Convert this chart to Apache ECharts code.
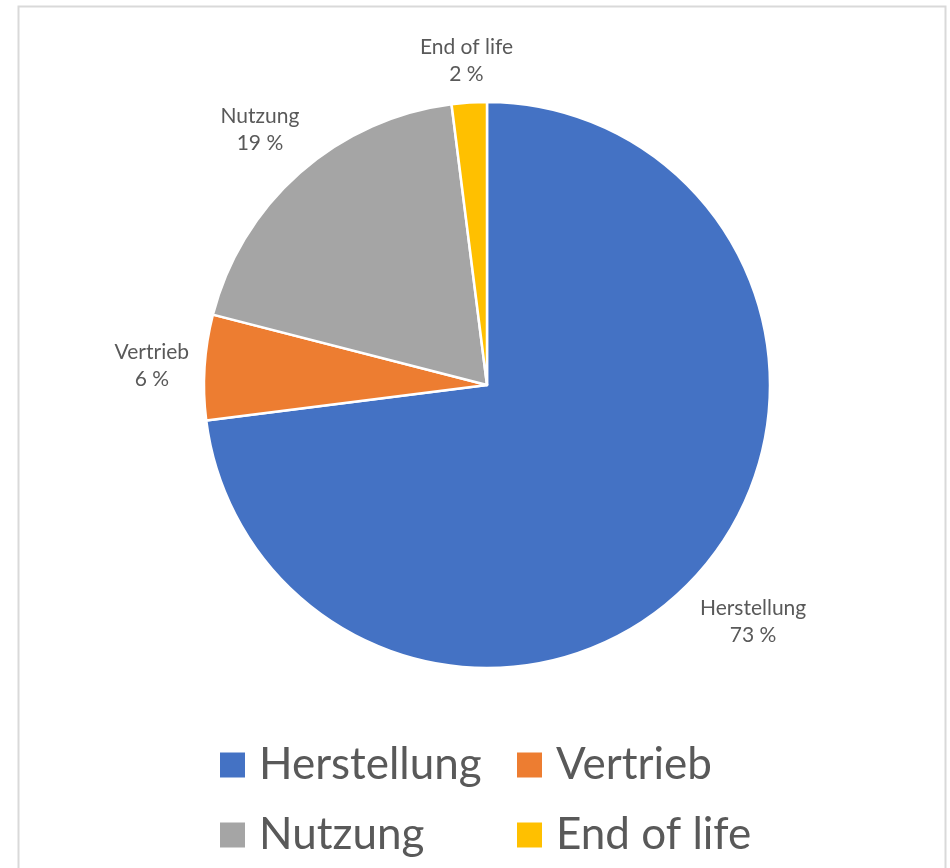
<!DOCTYPE html>
<html>
<head>
<meta charset="utf-8">
<script src="https://cdn.jsdelivr.net/npm/echarts@6/dist/echarts.min.js"></script>
<style>
  html, body { margin: 0; padding: 0; background: #fff; }
  #chart { width: 950px; height: 868px; }
</style>
</head>
<body>
<div id="chart"></div>
<script>
  // Anteile in Prozent
  var categories = ['Herstellung', 'Vertrieb', 'Nutzung', 'End of life'];
  var shares = [73, 6, 19, 2];
  var colors = ['#4472C4', '#ED7D31', '#A5A5A5', '#FFC000'];

  var CX = 487, CY = 385, R = 283;
  var total = shares.reduce(function (a, b) { return a + b; }, 0);

  // Mittelwinkel jedes Segments (im Uhrzeigersinn ab 12 Uhr)
  var midAngles = [];
  var acc = 0;
  shares.forEach(function (v) {
    midAngles.push((acc + v / 2) / total * Math.PI * 2);
    acc += v;
  });

  var myChart = echarts.init(document.getElementById('chart'));

  var legendText = { fontSize: 44, color: '#595959', lineHeight: 44, padding: [0, 0, 0, 8] };

  var option = {
    backgroundColor: '#fff',
    color: colors,
    textStyle: { fontFamily: 'Lato' },
    graphic: [{
      type: 'rect',
      shape: { x: 18.5, y: 6.5, width: 927, height: 900 },
      style: { fill: 'none', stroke: '#d9d9d9', lineWidth: 2 },
      silent: true
    }],
    legend: [{
      orient: 'vertical',
      left: 218,
      top: 743,
      padding: 0,
      icon: 'rect',
      itemWidth: 27,
      itemHeight: 27,
      itemGap: 26,
      data: ['Herstellung', 'Nutzung'],
      textStyle: legendText
    }, {
      orient: 'vertical',
      left: 515,
      top: 743,
      padding: 0,
      icon: 'rect',
      itemWidth: 27,
      itemHeight: 27,
      itemGap: 26,
      data: ['Vertrieb', 'End of life'],
      textStyle: legendText
    }],
    series: [{
      type: 'pie',
      center: [CX, CY],
      radius: R,
      startAngle: 90,
      clockwise: true,
      animation: false,
      itemStyle: { borderColor: '#fff', borderWidth: 2.5 },
      label: {
        show: true,
        position: 'outside',
        formatter: function (p) { return p.name + '\n' + p.value + ' %'; },
        fontSize: 21,
        lineHeight: 27,
        color: '#595959',
        fontFamily: 'Lato'
      },
      labelLine: { show: false },
      // Beschriftung zentriert entlang des Mittelwinkels, fester Abstand zum Rand
      labelLayout: function (params) {
        var a = midAngles[params.dataIndex];
        var dx = Math.sin(a), dy = -Math.cos(a);
        var hw = params.labelRect.width / 2, hh = params.labelRect.height / 2;
        var t = hw * Math.abs(dx) + hh * Math.abs(dy);
        var d = R + 14 + t;
        return { x: CX + dx * d, y: CY + dy * d + 2, align: 'center', verticalAlign: 'middle' };
      },
      data: categories.map(function (c, i) { return { name: c, value: shares[i] }; })
    }]
  };

  myChart.setOption(option);
</script>
</body>
</html>
